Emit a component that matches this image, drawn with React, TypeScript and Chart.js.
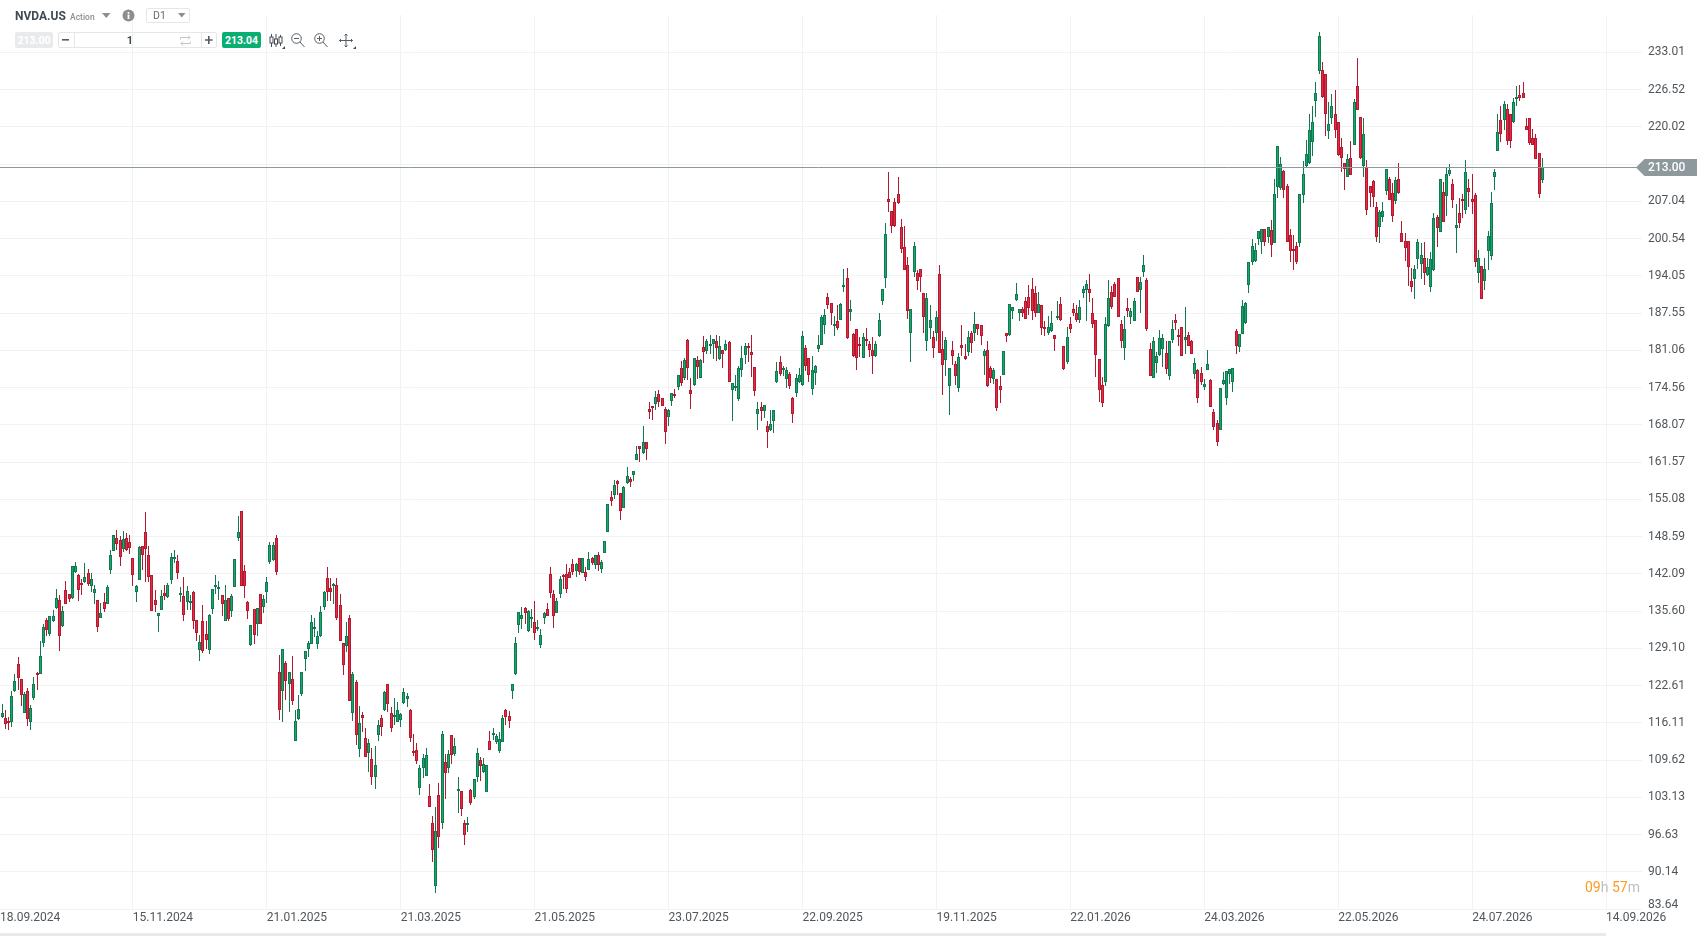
import React, { useEffect, useRef } from "react";
import { Chart, registerables } from "chart.js";

Chart.register(...registerables);

const WIDTH = 1697;
const HEIGHT = 936;

const symbol = "NVDA.US";
const symbolKind = "Action";
const timeframe = "D1";
const bidPrice = "213.00";
const askPrice = "213.04";
const lotSize = "1";
const lastPrice = 213.0;

const dateLabels = ["18.09.2024", "15.11.2024", "21.01.2025", "21.03.2025", "21.05.2025", "23.07.2025", "22.09.2025", "19.11.2025", "22.01.2026", "24.03.2026", "22.05.2026", "24.07.2026", "14.09.2026"];
const dateTickIndex = [0.345, 42, 84, 126, 168, 210, 252, 294, 336, 378, 420, 462, 504];
const priceGridTicks = [83.64, 90.14, 96.63, 103.13, 109.62, 116.11, 122.61, 129.1, 135.6, 142.09, 148.59, 155.08, 161.57, 168.07, 174.56, 181.06, 187.55, 194.05, 200.54, 207.04, 213.53, 220.02, 226.52, 233.01];
const priceLabels = ["", "90.14", "96.63", "103.13", "109.62", "116.11", "122.61", "129.10", "135.60", "142.09", "148.59", "155.08", "161.57", "168.07", "174.56", "181.06", "187.55", "194.05", "200.54", "207.04", "", "220.02", "226.52", "233.01"];
const bottomLabelAt = 84.39;
const bottomLabel = "83.64";

const opens = [
115.6,117.1,116.9,116.4,116.2,121.7,126.4,123.8,117.8,121.7,
116.2,120.5,124.8,124.7,130.0,134.1,131.6,133.8,136.1,137.6,
133.0,139.3,138.6,137.9,142.4,141.9,140.5,140.7,142.3,140.0,
138.7,137.6,134.4,137.2,136.9,142.8,146.1,148.4,147.9,146.4,
148.4,147.7,144.9,138.9,141.0,147.0,149.3,145.3,141.8,137.6,
134.7,135.8,138.8,138.0,141.0,144.7,144.4,138.4,138.3,137.2,
137.0,139.0,134.0,128.8,133.9,131.6,128.8,135.9,139.8,139.4,
138.4,133.8,137.9,135.6,139.8,148.4,153.0,142.5,137.2,129.6,
136.0,133.3,138.6,136.3,139.0,144.2,144.5,148.3,124.9,121.7,
126.5,122.9,123.8,112.9,116.8,121.1,127.2,128.9,129.9,132.4,
129.9,131.3,136.3,141.3,139.6,139.9,140.2,136.6,130.0,129.5,
134.4,117.8,123.3,111.5,117.5,113.5,110.9,109.8,106.6,114.0,
117.0,118.3,122.8,117.9,117.2,116.3,116.6,119.6,120.3,118.4,
111.2,111.4,104.8,108.2,106.9,103.3,98.6,87.7,103.6,98.6,
109.3,108.2,114.0,110.6,104.2,104.2,98.6,98.4,104.4,103.1,
106.6,109.6,107.5,104.1,112.9,114.0,112.7,111.2,112.7,118.4,
117.3,121.6,124.7,133.1,134.2,136.1,132.1,134.2,133.7,132.4,
129.7,134.3,135.9,142.0,138.6,135.2,138.5,141.9,142.0,142.4,
143.8,142.5,144.9,142.3,142.4,142.7,144.9,143.7,145.4,143.0,
145.7,149.4,155.5,155.8,158.3,156.2,153.5,158.0,158.7,159.3,
161.9,164.3,163.2,165.1,170.9,171.4,171.7,173.4,172.7,170.9,
169.5,172.3,173.5,174.6,177.9,176.2,182.8,174.1,175.1,179.3,
176.2,181.6,180.9,181.8,182.2,182.6,179.5,181.2,181.2,182.5,
174.2,174.6,172.5,177.7,180.2,181.9,180.7,178.1,169.9,171.1,
170.4,167.9,167.1,168.8,175.5,179.1,177.6,176.0,177.0,172.7,
173.7,175.6,175.0,181.5,179.8,174.3,177.1,181.3,182.0,185.4,
190.3,189.4,185.3,186.1,186.3,192.2,193.6,187.8,183.9,184.8,
182.2,179.7,183.1,182.2,181.2,180.1,183.6,189.6,193.6,207.4,
205.3,207.0,208.3,202.5,199.0,196.0,184.0,194.8,194.6,195.2,
191.0,182.7,185.0,183.4,184.0,194.3,181.3,179.4,174.9,181.2,
178.7,174.5,182.0,180.1,180.8,184.0,184.0,185.7,185.4,180.0,
181.2,178.0,176.1,176.1,174.9,176.8,184.0,183.7,188.0,189.9,
187.6,188.3,189.7,190.4,191.8,191.0,187.6,189.0,185.2,184.0,
184.4,183.8,186.8,189.2,181.9,179.0,185.7,188.2,187.6,186.3,
191.1,191.6,191.8,187.6,186.4,179.6,175.0,175.5,185.3,191.3,
192.7,193.6,185.7,181.5,188.5,186.9,186.1,193.8,191.5,194.8,
193.4,181.3,176.3,178.9,180.3,181.3,180.6,176.6,182.9,186.4,
183.8,185.2,182.9,183.8,182.6,177.0,177.7,177.1,174.7,177.7,
175.9,170.3,168.4,167.2,175.2,172.8,177.0,175.5,184.5,181.7,
183.9,185.9,192.4,196.4,196.7,200.4,199.9,202.3,200.9,202.1,
199.7,209.5,209.3,212.3,209.8,201.1,198.8,199.3,199.7,208.1,
213.2,213.8,217.4,224.6,229.7,229.9,229.2,219.3,221.6,222.3,
220.9,216.6,213.8,211.2,214.6,216.9,227.2,221.8,213.2,213.1,
209.8,210.6,206.1,202.6,204.3,208.9,211.0,208.5,207.1,211.0,
201.5,200.1,200.1,193.1,193.5,197.0,196.1,197.2,194.2,192.1,
195.1,204.3,201.7,208.7,208.0,211.8,210.1,202.4,205.0,207.5,
205.6,209.4,207.5,208.2,194.5,195.8,193.1,198.4,197.5,211.2,
215.9,221.3,221.3,223.2,222.2,220.8,225.0,225.5,226.0,220.1,
221.6,218.1,218.1,215.5,210.8,
];

const closes = [
112.9,117.8,115.9,116.0,120.8,123.4,123.9,120.9,121.2,116.7,
118.7,122.9,124.4,127.8,132.9,132.3,134.8,134.8,137.9,131.2,
135.6,136.8,137.7,143.5,143.5,139.3,140.2,141.6,140.4,141.2,
139.5,132.8,135.3,135.9,139.8,145.4,148.9,147.3,145.1,148.2,
146.3,146.6,141.9,140.0,146.8,145.4,146.4,141.5,135.6,136.6,
135.3,138.3,138.2,140.2,145.1,145.1,142.2,138.8,134.9,139.1,
137.4,133.8,131.7,130.2,128.6,130.5,134.9,139.5,140.2,139.8,
136.9,137.6,134.2,138.3,144.6,149.3,140.0,140.0,135.6,133.1,
131.4,136.1,133.3,137.7,140.7,147.1,147.2,142.4,118.4,128.9,
123.4,124.9,119.9,116.5,118.6,124.9,128.7,130.0,133.7,132.8,
131.2,135.4,138.9,139.0,139.0,140.3,134.3,130.3,126.2,131.2,
119.9,124.7,113.9,116.1,116.9,110.2,112.5,106.6,108.7,115.8,
115.4,121.5,119.4,115.2,117.5,118.4,117.7,121.4,120.7,113.4,
110.8,109.4,108.2,110.0,110.5,101.5,94.0,97.3,96.2,114.2,
107.3,110.7,110.5,112.1,104.5,101.1,96.6,98.7,102.2,106.3,
110.8,108.6,108.9,108.7,111.4,114.4,113.8,113.3,117.0,117.2,
116.5,122.9,130.0,135.4,134.9,135.2,135.6,134.5,131.7,132.8,
131.5,135.3,134.7,138.8,134.7,137.3,141.2,141.5,139.5,141.3,
142.4,143.8,142.4,144.9,141.6,144.7,143.9,145.4,143.6,144.2,
147.8,154.3,154.8,157.6,157.7,153.0,157.3,159.2,158.1,160.1,
162.9,163.9,165.0,163.9,170.3,171.0,173.0,172.1,171.3,166.8,
170.7,173.7,173.2,176.7,175.3,179.3,177.9,173.5,179.8,178.1,
179.3,180.7,182.6,182.1,183.1,181.4,181.9,180.4,182.1,175.5,
175.3,174.9,177.9,179.8,181.8,181.4,180.2,173.9,170.9,170.4,
171.6,166.9,168.3,170.7,177.4,177.0,177.9,177.7,174.8,170.0,
176.2,176.7,183.5,178.3,176.7,177.7,178.4,182.0,186.8,187.3,
188.9,187.5,185.7,185.0,189.2,192.5,183.2,188.3,180.1,179.7,
181.9,183.3,182.6,181.1,180.1,182.2,186.4,191.7,201.3,206.9,
202.8,202.7,206.7,198.8,195.0,188.0,188.3,199.2,193.1,193.8,
186.8,190.1,186.4,181.5,186.8,180.6,178.5,182.9,178.0,180.1,
176.6,179.9,181.5,179.6,183.4,182.4,185.7,184.8,183.6,181.0,
174.9,176.3,177.7,171.0,174.2,181.0,183.6,189.2,188.7,190.8,
188.3,187.5,186.6,188.5,188.0,187.5,189.2,184.9,184.8,185.2,
185.9,183.1,187.1,186.4,177.8,183.4,184.8,187.6,186.3,188.7,
191.8,192.7,191.1,185.7,180.3,174.1,171.9,185.7,190.2,188.7,
190.3,186.9,182.7,184.8,188.0,188.0,189.7,191.3,192.9,195.9,
184.8,176.6,182.6,180.1,183.2,183.2,177.8,182.6,184.8,185.9,
183.3,180.1,183.4,181.8,180.5,178.9,172.8,175.5,175.2,178.7,
171.2,167.7,165.1,174.5,175.9,177.5,177.8,178.0,181.9,183.9,
188.8,189.4,196.5,199.2,198.5,201.8,202.3,199.9,202.5,199.5,
208.4,216.7,213.5,209.1,199.9,198.3,198.5,196.4,208.3,211.8,
215.3,219.4,220.9,226.0,235.8,225.3,222.2,220.6,223.6,219.4,
215.2,214.6,212.6,214.5,211.7,224.4,222.9,214.6,218.7,205.6,
208.5,207.8,200.8,205.2,205.4,212.6,207.3,204.5,210.8,208.5,
200.0,198.9,195.6,192.1,195.2,199.9,197.7,194.5,195.6,197.0,
204.2,202.4,211.0,203.4,211.8,212.5,207.3,202.9,203.3,207.1,
212.2,208.7,207.0,196.5,197.2,190.0,195.2,201.0,206.8,212.2,
219.2,218.7,224.1,217.5,217.5,224.3,225.3,225.1,225.0,219.4,
217.3,216.8,214.5,208.4,213.1,
];

const highs = [
115.8,119.4,118.3,117.2,121.7,124.6,127.5,123.8,121.4,122.2,
119.2,124.1,124.9,130.4,133.3,134.4,134.8,135.7,139.5,138.4,
136.4,140.8,138.6,143.5,144.2,142.1,141.2,143.9,143.0,142.2,
140.2,137.6,137.0,138.8,140.2,146.3,148.9,149.7,148.6,149.5,
149.2,148.8,144.9,140.2,147.0,147.0,152.8,147.0,141.8,139.2,
135.3,139.2,140.2,140.5,145.7,146.3,145.4,139.8,141.6,140.0,
138.4,139.1,134.0,131.5,136.6,133.9,135.1,139.5,141.8,140.8,
138.4,140.1,137.9,138.6,144.7,152.1,153.0,143.7,137.4,133.1,
136.0,136.1,138.6,138.4,141.6,147.6,147.7,148.8,127.9,128.9,
126.8,124.9,127.7,118.4,121.0,124.9,128.7,130.3,134.9,134.4,
132.1,136.5,139.1,143.2,141.4,140.5,141.4,138.6,130.0,133.7,
134.9,124.9,123.5,119.1,118.0,115.2,113.2,111.7,112.1,116.6,
117.5,121.7,122.8,118.8,120.4,119.8,117.9,122.1,121.3,118.6,
114.2,112.6,108.7,110.7,111.7,105.5,99.8,101.4,105.6,114.7,
110.7,111.3,114.0,113.5,106.7,104.2,99.1,99.6,104.5,106.3,
111.7,110.1,110.0,108.7,114.7,115.2,114.2,114.5,117.5,118.6,
118.1,122.9,131.0,135.4,136.3,136.3,135.8,135.9,137.4,134.1,
132.4,135.5,137.0,143.3,139.3,137.9,141.7,142.1,143.8,143.1,
144.7,144.0,144.9,144.9,143.3,145.9,145.0,145.4,145.9,144.5,
147.8,154.3,156.6,158.5,158.5,156.2,157.4,160.8,159.0,160.1,
164.3,164.3,167.8,165.1,172.1,171.4,173.9,174.1,172.8,171.1,
170.9,173.7,174.4,176.7,179.2,179.7,183.0,176.3,179.8,180.0,
179.5,183.5,183.1,183.7,183.1,183.7,183.5,181.2,182.8,182.6,
175.3,176.7,178.3,181.8,182.3,182.3,183.7,178.1,172.1,172.1,
171.6,168.7,170.7,170.7,179.1,180.0,178.3,178.1,177.2,173.0,
176.9,177.9,184.4,182.0,179.8,180.1,178.5,183.8,187.3,188.2,
191.0,189.4,187.1,189.0,189.4,195.2,195.5,189.9,184.1,184.8,
183.4,184.0,185.0,182.6,183.4,182.7,187.5,191.7,203.2,212.1,
205.3,207.7,211.2,203.9,202.8,197.3,188.3,199.9,195.0,195.2,
191.0,191.0,188.9,184.5,187.9,195.9,184.5,183.4,178.0,182.6,
179.2,180.6,185.5,182.2,184.5,184.5,187.8,185.7,185.4,181.3,
182.7,178.4,178.0,176.1,176.6,181.0,184.1,189.2,188.7,192.8,
188.3,188.7,190.4,192.5,193.6,192.2,191.3,189.0,186.2,187.1,
188.0,183.8,189.7,190.3,181.9,185.2,186.9,189.4,189.0,189.9,
192.2,193.4,194.3,190.2,186.4,179.6,176.4,186.8,193.4,192.2,
193.0,193.6,186.4,187.1,190.2,188.5,190.1,193.8,193.8,197.6,
193.6,182.4,183.4,180.8,184.6,183.9,182.6,182.7,186.4,187.4,
184.8,185.2,188.7,184.3,182.8,179.7,177.8,178.2,176.1,181.1,
176.1,170.8,168.9,174.5,177.3,177.5,177.8,178.0,184.7,183.9,
189.9,189.5,196.5,200.4,199.7,201.8,202.3,202.3,202.5,203.7,
210.9,216.7,214.7,212.5,210.0,202.3,201.1,200.0,208.3,214.0,
217.7,222.2,223.6,227.8,236.5,231.4,229.2,224.3,225.8,226.5,
220.9,218.0,213.8,215.3,217.6,224.8,232.1,221.8,221.5,214.3,
209.8,210.8,207.0,205.6,207.0,212.6,211.2,210.3,211.3,213.8,
203.6,201.5,200.1,195.4,195.9,200.5,199.8,200.0,197.2,198.2,
205.0,204.7,211.0,210.4,212.9,213.6,211.0,206.6,207.7,208.4,
214.3,210.9,211.8,208.5,198.6,195.8,197.2,201.9,208.7,212.7,
222.2,223.6,224.6,224.1,222.2,225.0,227.1,227.4,227.8,221.6,
221.6,219.7,218.7,215.5,214.6,
];

const lows = [
112.8,116.9,115.1,114.8,115.3,121.5,121.8,119.1,117.8,115.6,
114.9,120.1,121.8,124.7,129.3,131.3,131.3,133.7,136.0,128.6,
132.9,136.8,137.2,137.7,142.2,137.3,138.4,140.5,139.9,138.9,
136.8,132.0,134.4,135.5,136.8,142.1,146.0,146.3,143.5,145.9,
146.0,145.6,139.9,137.2,141.0,142.7,140.7,140.7,135.6,135.5,
131.9,135.8,137.5,137.9,140.3,144.0,141.2,137.2,133.8,135.8,
135.8,132.4,130.3,126.8,128.2,129.0,128.1,135.1,138.6,137.6,
134.7,133.8,133.9,134.5,139.8,147.8,140.0,137.9,134.2,129.5,
129.9,131.2,133.3,135.3,137.0,143.8,144.3,141.9,116.6,116.2,
120.1,118.0,119.2,112.9,116.6,120.8,125.2,127.6,129.9,131.1,
129.0,131.1,135.7,137.4,137.3,136.8,134.1,130.3,124.5,128.5,
119.9,116.4,112.2,110.1,114.5,110.1,107.5,105.3,104.6,112.9,
113.8,118.2,118.0,114.5,115.8,116.3,115.4,119.4,118.9,112.7,
110.4,109.0,103.6,106.4,106.8,101.5,91.8,86.4,94.3,97.6,
102.9,107.3,108.9,110.4,100.3,99.9,94.8,97.0,101.8,102.9,
105.7,105.9,107.3,104.0,111.4,113.1,112.4,110.8,112.7,115.8,
115.2,120.3,124.5,131.7,132.4,133.4,132.0,132.7,130.6,132.2,
129.1,133.3,134.7,137.8,132.7,135.2,137.8,139.4,138.7,141.3,
141.8,141.5,141.8,142.2,140.8,142.7,143.6,143.0,142.5,142.2,
145.7,149.4,153.9,155.1,155.8,151.4,153.5,157.8,157.2,158.2,
161.9,161.6,163.0,161.9,169.0,168.9,170.7,171.2,171.3,164.7,
167.9,171.3,172.8,174.2,174.9,175.9,175.9,170.8,174.8,176.0,
176.2,178.8,180.4,180.4,179.5,179.2,179.3,178.0,180.9,175.5,
168.8,173.9,172.3,176.4,178.7,179.1,176.4,173.1,167.2,168.8,
169.3,164.0,167.0,166.7,175.3,176.5,176.5,174.5,174.4,168.4,
173.0,175.3,174.8,177.4,175.5,173.2,175.0,180.8,182.0,183.9,
188.3,185.4,183.6,184.6,186.3,191.3,183.0,186.2,179.9,177.6,
179.9,179.7,181.8,179.9,176.9,179.9,183.4,188.9,191.9,205.1,
201.6,202.5,206.5,198.1,195.0,186.6,179.0,193.9,191.5,191.2,
184.0,181.0,183.1,179.7,182.7,180.6,173.2,176.6,169.8,178.5,
175.0,173.8,180.1,179.4,180.1,180.6,182.7,183.8,182.0,176.8,
174.7,175.4,175.2,170.4,171.8,176.8,182.5,183.6,186.6,189.7,
186.2,186.8,186.6,187.3,186.4,186.9,187.5,183.7,183.6,183.8,
184.2,181.0,186.4,186.2,177.7,178.7,184.1,187.1,186.0,185.8,
190.1,186.2,189.5,184.9,176.4,172.1,171.1,174.9,185.2,188.3,
190.3,186.8,181.5,179.4,186.9,185.7,186.1,191.3,187.6,193.9,
184.4,176.6,176.3,177.1,180.1,178.2,176.9,175.9,182.4,184.6,
181.9,180.0,180.4,181.8,180.5,176.1,171.9,175.0,174.2,177.7,
171.2,167.2,164.4,167.2,175.0,171.6,175.2,173.8,180.4,180.8,
183.9,185.7,191.1,196.0,196.5,199.5,197.9,199.2,199.7,197.4,
199.7,207.6,209.1,207.7,199.9,196.5,195.0,196.2,199.0,206.7,
213.1,213.6,214.9,221.8,229.3,225.0,218.5,217.9,220.6,218.0,
215.0,212.2,209.0,211.2,211.7,216.8,222.9,214.5,211.2,204.7,
206.1,206.1,199.9,199.7,203.4,208.2,207.3,203.4,206.6,208.4,
200.0,196.6,192.3,191.2,190.0,195.2,193.5,192.4,194.0,191.2,
194.9,199.1,201.7,203.4,204.5,211.5,205.9,198.0,202.4,204.1,
204.9,206.1,204.9,195.6,192.8,190.0,191.6,195.0,196.8,209.0,
215.9,217.4,219.5,216.9,216.4,220.7,223.7,224.6,225.0,219.4,
216.9,216.8,214.5,207.6,210.3,
];

const GREEN_FILL = "#14a86c";
const GREEN_EDGE = "#11784f";
const RED_FILL = "#e92a44";
const RED_EDGE = "#b3192f";
const GRID = "#f1f2f4";
const AXIS_TEXT = "#50565b";
const TAG = "#8e999d";

const isUp = (i: number) => closes[i] >= opens[i];

const zeroPadding = (s: any) => {
  s.paddingTop = 0;
  s.paddingBottom = 0;
  s.paddingLeft = 0;
  s.paddingRight = 0;
};

const snapPlugin = {
  id: "snapCandles",
  beforeDatasetsDraw(chart: any) {
    chart.getSortedVisibleDatasetMetas().forEach((meta: any) => {
      const body = meta.index === 0;
      meta.data.forEach((el: any) => {
        el.x = Math.floor(el.x) + 0.5;
        const top = Math.round(Math.min(el.y, el.base));
        let bottom = Math.round(Math.max(el.y, el.base));
        if (body && bottom - top < 2) bottom = top + 2;
        el.y = top;
        el.base = bottom;
      });
    });
  },
};

const lastPricePlugin = {
  id: "lastPrice",
  afterDraw(chart: any) {
    const { ctx } = chart;
    const y = Math.round(chart.scales.y.getPixelForValue(lastPrice)) + 0.5;
    ctx.save();
    ctx.strokeStyle = TAG;
    ctx.lineWidth = 1;
    ctx.beginPath();
    ctx.moveTo(0, y);
    ctx.lineTo(1637, y);
    ctx.stroke();
    ctx.fillStyle = TAG;
    ctx.beginPath();
    ctx.moveTo(1636, y);
    ctx.lineTo(1644.5, y - 8.5);
    ctx.lineTo(WIDTH, y - 8.5);
    ctx.lineTo(WIDTH, y + 8.5);
    ctx.lineTo(1644.5, y + 8.5);
    ctx.closePath();
    ctx.fill();
    ctx.fillStyle = "#ffffff";
    ctx.font = "500 12px Roboto";
    ctx.textAlign = "left";
    ctx.textBaseline = "middle";
    ctx.fillText(lastPrice.toFixed(2), 1648, y + 0.5);
    ctx.restore();
  },
};

const abs = (left: number, top: number, extra: React.CSSProperties = {}): React.CSSProperties => ({
  position: "absolute",
  left,
  top,
  ...extra,
});

function Toolbar() {
  const cell: React.CSSProperties = { display: "flex", alignItems: "center", justifyContent: "center", boxSizing: "border-box" };
  return (
    <div style={abs(0, 0, { width: WIDTH, height: HEIGHT, fontFamily: "Roboto", pointerEvents: "none" })}>
      <div style={abs(0, 0, { width: 1644, height: 15, background: "#fff" })} />
      <div style={abs(15, 8, { fontSize: 12, fontWeight: 700, color: "#3f4a52", lineHeight: "16px" })}>{symbol}</div>
      <div style={abs(70, 11, { fontSize: 8.5, fontWeight: 500, color: "#8a9095", lineHeight: "12px" })}>{symbolKind}</div>
      <svg style={abs(102, 13)} width="9" height="6"><path d="M0 0H8.5L4.25 5Z" fill="#8a8f93" /></svg>
      <svg style={abs(122, 9)} width="13" height="13">
        <circle cx="6.5" cy="6.5" r="6" fill="#8a8f93" />
        <rect x="5.6" y="5.5" width="1.8" height="4.5" fill="#fff" />
        <rect x="5.6" y="3" width="1.8" height="1.7" fill="#fff" />
      </svg>
      <div style={abs(146, 8, { ...cell, width: 44, height: 15, border: "1px solid #e4e6e8", borderRadius: 2, justifyContent: "flex-start", paddingLeft: 6, fontSize: 10.5, color: "#666c71" })}>{timeframe}</div>
      <svg style={abs(178, 13)} width="8" height="6"><path d="M0 0H7.5L3.75 4.5Z" fill="#8a8f93" /></svg>

      <div style={abs(15, 32, { ...cell, width: 38, height: 16, borderRadius: 2, background: "#e9eaeb", color: "#fff", fontSize: 10.5, fontWeight: 700 })}>{bidPrice}</div>
      <div style={abs(58, 32, { width: 159, height: 16, boxSizing: "border-box", border: "1px solid #e4e6e8", borderRadius: 2 })} />
      <div style={abs(74, 32, { width: 1, height: 16, background: "#e4e6e8" })} />
      <div style={abs(201, 32, { width: 1, height: 16, background: "#e4e6e8" })} />
      <div style={abs(58, 32, { ...cell, width: 16, height: 16 })}><svg width="8" height="2"><rect width="7" height="1.6" fill="#555b60" /></svg></div>
      <div style={abs(201, 32, { ...cell, width: 16, height: 16 })}><svg width="8" height="8"><path d="M0 3.2H7.5V4.8H0ZM3 0H4.6V8H3Z" fill="#555b60" /></svg></div>
      <div style={abs(74, 32, { ...cell, width: 112, height: 16, fontSize: 11, fontWeight: 700, color: "#3f4a52" })}>{lotSize}</div>
      <svg style={abs(180, 35)} width="11" height="11" fill="none" stroke="#c4c7ca" strokeWidth="1">
        <path d="M0.5 4.5V2.5H10M8 0.5L10 2.5L8 4.5M10.5 6.5V8.5H1M3 6.5L1 8.5L3 10.5" />
      </svg>
      <div style={abs(222, 32, { ...cell, width: 39, height: 16, borderRadius: 2, background: "#0aae72", color: "#fff", fontSize: 10.5, fontWeight: 700 })}>{askPrice}</div>

      <svg style={abs(269, 33)} width="17" height="17" fill="none" stroke="#454d54" strokeWidth="1">
        <path d="M2.5 1V14M7 1V14M11.5 2V13" />
        <rect x="1" y="4" width="3" height="6" fill="#fff" />
        <rect x="5.5" y="6" width="3" height="5" fill="#fff" />
        <rect x="10" y="4" width="3" height="6" fill="#fff" />
        <path d="M13 16H16V13Z" fill="#454d54" stroke="none" />
      </svg>
      <svg style={abs(291, 33)} width="14" height="15" fill="none" stroke="#555c62" strokeWidth="1">
        <circle cx="5.5" cy="5.5" r="4.8" />
        <path d="M3 5.5H8M9 9L13.5 14" />
      </svg>
      <svg style={abs(314, 33)} width="14" height="15" fill="none" stroke="#555c62" strokeWidth="1">
        <circle cx="5.5" cy="5.5" r="4.8" />
        <path d="M3 5.5H8M5.5 3V8M9 9L13.5 14" />
      </svg>
      <svg style={abs(339, 33)} width="18" height="17" fill="none" stroke="#555c62" strokeWidth="1">
        <path d="M7 1V14M0.5 7.5H13.5M5.5 2.5L7 1L8.5 2.5M5.5 12.5L7 14L8.5 12.5M2 6L0.5 7.5L2 9M12 6L13.5 7.5L12 9" />
        <path d="M14 16H17V13Z" fill="#454d54" stroke="none" />
      </svg>

      <div style={abs(1585, 879, { fontSize: 14, lineHeight: "16px", whiteSpace: "pre", color: "#bcbfc2" })}>
        <span style={{ color: "#ff9a1f" }}>09</span>h <span style={{ color: "#ff9a1f" }}>57</span>m
      </div>
      <div style={abs(0, 933, { width: 1606, height: 3, background: "#e8ebee" })} />
    </div>
  );
}

export default function App() {
  const canvasRef = useRef<HTMLCanvasElement>(null);

  useEffect(() => {
    const chart = new Chart(canvasRef.current as HTMLCanvasElement, {
      type: "bar",
      data: {
        datasets: [
          {
            label: "body",
            order: 0,
            grouped: false,
            barThickness: 3,
            borderWidth: 1,
            borderSkipped: false,
            inflateAmount: 0,
            data: opens.map((o, i) => ({ x: i, y: [o, closes[i]] })),
            backgroundColor: opens.map((_, i) => (isUp(i) ? GREEN_FILL : RED_FILL)),
            borderColor: opens.map((_, i) => (isUp(i) ? GREEN_EDGE : RED_EDGE)),
          },
          {
            label: "wick",
            order: 1,
            grouped: false,
            barThickness: 1,
            borderWidth: 0,
            borderSkipped: false,
            inflateAmount: 0,
            data: lows.map((l, i) => ({ x: i, y: [l, highs[i]] })),
            backgroundColor: opens.map((_, i) => (isUp(i) ? GREEN_EDGE : RED_EDGE)),
          },
        ] as any,
      },
      options: {
        animation: false,
        responsive: false,
        devicePixelRatio: 1,
        layout: { padding: 0 },
        plugins: { legend: { display: false }, tooltip: { enabled: false } },
        scales: {
          x: {
            type: "linear",
            bounds: "data",
            offset: false,
            min: 0.345,
            max: 515.27,
            afterFit: (s: any) => { s.height = 27; zeroPadding(s); },
            afterBuildTicks: (s: any) => { s.ticks = dateTickIndex.map((value) => ({ value })); },
            border: { display: false },
            grid: {
              offset: false,
              drawTicks: false,
              lineWidth: 1,
              color: (c: any) => (c.index === 0 ? "transparent" : GRID),
            },
            ticks: {
              autoSkip: false,
              maxRotation: 0,
              align: "start",
              padding: 2,
              color: AXIS_TEXT,
              font: { family: "Roboto", size: 12 },
              callback: (_: any, i: number) => dateLabels[i],
            },
          },
          y: {
            type: "linear",
            position: "right",
            bounds: "data",
            min: 83.64,
            max: 242.15,
            afterFit: (s: any) => { s.width = 55; zeroPadding(s); },
            afterBuildTicks: (s: any) => {
              s.ticks = [...priceGridTicks, bottomLabelAt].sort((a, b) => a - b).map((value) => ({ value }));
            },
            border: { display: false },
            grid: {
              drawTicks: false,
              lineWidth: 1,
              color: (c: any) => (c.tick && c.tick.value === bottomLabelAt ? "transparent" : GRID),
            },
            ticks: {
              autoSkip: false,
              padding: 6,
              color: AXIS_TEXT,
              font: { family: "Roboto", size: 12 },
              callback: (v: any) => {
                if (v === bottomLabelAt) return bottomLabel;
                const i = priceGridTicks.indexOf(v);
                return i >= 0 ? priceLabels[i] : "";
              },
            },
          },
        },
      } as any,
      plugins: [snapPlugin, lastPricePlugin],
    });
    return () => chart.destroy();
  }, []);

  return (
    <div style={{ position: "fixed", left: 0, top: 0, width: WIDTH, height: HEIGHT, overflow: "hidden", background: "#fff" }}>
      <canvas ref={canvasRef} width={WIDTH} height={HEIGHT} style={{ display: "block", width: WIDTH, height: HEIGHT }} />
      <Toolbar />
    </div>
  );
}
